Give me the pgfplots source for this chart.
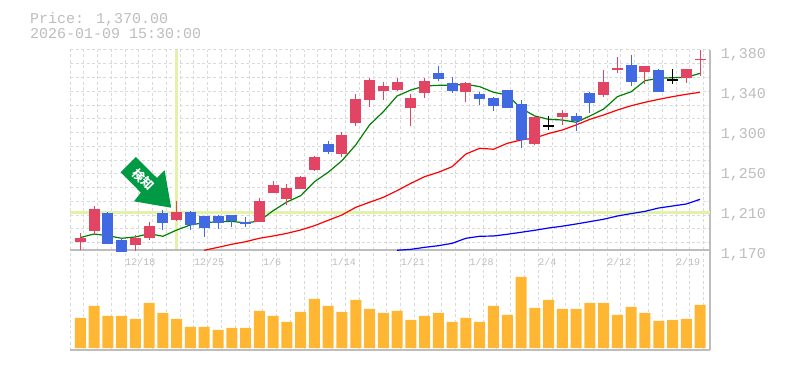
\documentclass[border=0pt]{standalone}
\usepackage{pgfplots}
\pgfplotsset{compat=1.18}
\usepackage{fontspec}
\setmainfont{Liberation Mono}
\newfontfamily\cjk{Noto Sans CJK JP}
\definecolor{tgray}{HTML}{BDBDBD}
\definecolor{gridc}{HTML}{DADADA}
\definecolor{hl}{HTML}{E2F2A8}
\definecolor{cred}{HTML}{E24464}
\definecolor{cblue}{HTML}{4169E1}
\definecolor{vol}{HTML}{FFB733}
\definecolor{arrowc}{HTML}{009944}
\pgfplotsset{
  common/.style={
    scale only axis, width=640pt, xmin=-0.747, xmax=45.72,
    axis x line=bottom, axis y line=right,
    axis line style={-, draw=tgray, line width=1.2pt},
    major tick length=0pt, minor tick length=0pt,
    xtick={-0.747,0.253,...,45.3},
    xmajorgrids, grid style={draw=gridc, line width=1pt, dash pattern=on 3pt off 2.5pt},
    unbounded coords=jump,
  },
  wick/.style={line width=1pt, forget plot},
  body/.style={line width=11pt, forget plot},
}
\begin{document}
\begin{tikzpicture}[x=1pt,y=1pt]
\path[use as bounding box] (0,0) rectangle (785,370);
\node[anchor=west,inner sep=0pt,text=tgray,font=\fontsize{15pt}{15pt}\selectfont] at (30,351) {Price: 1,370.00};
\node[anchor=west,inner sep=0pt,text=tgray,font=\fontsize{15pt}{15pt}\selectfont] at (30,336) {2026-01-09 15:30:00};
% volume panel
\begin{axis}[common, at={(70pt,20pt)}, anchor=south west, height=100pt,
  ymin=-2, ymax=98, ytick=\empty, xticklabels={}]
\addplot[ybar, bar width=11pt, bar shift=0pt, fill=vol, draw=none] coordinates {
(0,30)(1,42)(2,32)(3,32)(4,29)(5,45)(6,35)(7,29)(8,21)(9,21)(10,18)(11,20)
(12,20)(13,37)(14,32)(15,26)(16,36)(17,49)(18,42)(19,36)(20,48)(21,39)(22,35)(23,37)
(24,28)(25,32)(26,35)(27,26)(28,30)(29,26)(30,42)(31,33)(32,71)(33,40)(34,48)(35,39)
(36,39)(37,45)(38,45)(39,33)(40,41)(41,35)(42,27)(43,28)(44,29)(45,43)};
\end{axis}
% price panel
\begin{axis}[common, at={(70pt,120pt)}, anchor=south west, height=200pt,
  ymin=1170, ymax=1380, clip=false,
  ytick={1170,1212,1254,1296,1338,1380},
  yticklabels={{1,170},{1,210},{1,250},{1,300},{1,340},{1,380}},
  minor ytick={1380,1365.56,...,1170},
  yminorgrids, minor grid style={draw=gridc, line width=1pt, dash pattern=on 3pt off 2.5pt},
  yticklabel style={anchor=west, inner sep=0pt, xshift=10.7pt, yshift=-5pt, text=tgray, font=\fontsize{15pt}{15pt}\selectfont},
  xticklabels={,,,,12/18,,,,,12/25,,,,,1/6,,,,,1/14,,,,,1/21,,,,,1/28,,,,,2/4,,,,,2/12,,,,,2/19,},
  xticklabel style={anchor=north west, inner sep=0pt, yshift=-8.5pt, text=tgray, font=\fontsize{10pt}{10pt}\selectfont},
]
\addplot[hl, line width=3pt, forget plot] coordinates {(-0.747,1209.6)(45.72,1209.6)};
\addplot[hl, line width=3pt, forget plot] coordinates {(7,1380)(7,1171)};
% moving averages
\addplot[color={rgb,255:red,0;green,128;blue,0}, line width=1.2pt, forget plot] coordinates {
(0,1183.1)(1,1186.8)(2,1185)(3,1182.3)(4,1183.7)(5,1187.1)(6,1184.4)(7,1191)(8,1196.3)(9,1198.7)
(10,1199.7)(11,1200.1)(12,1198.4)(13,1200.5)(14,1211.3)(15,1220.4)(16,1227)(17,1241.7)(18,1251.6)(19,1263.8)
(20,1280.3)(21,1301.3)(22,1315.2)(23,1331.7)(24,1338)(25,1342.2)(26,1342.9)(27,1342.9)(28,1344)(29,1341.5)
(30,1335.6)(31,1332.8)(32,1318.8)(33,1310.7)(34,1307.2)(35,1306.5)(36,1304.1)(37,1310.7)(38,1318)(39,1331)
(40,1336.2)(41,1347.8)(42,1350.3)(43,1350.9)(44,1351.3)(45,1355.5)};
\addplot[color=red, line width=1.2pt, forget plot] coordinates {
(9,1169.7)(10,1172.8)(11,1176)(12,1178.7)(13,1182.3)(14,1184.7)(15,1187.5)(16,1191)(17,1195.5)(18,1201.2)(19,1206.8)
(20,1214.8)(21,1220.1)(22,1225.3)(23,1232.3)(24,1240)(25,1247)(26,1251.6)(27,1257.5)(28,1270.8)(29,1276.8)
(30,1275.8)(31,1282)(32,1285.5)(33,1287.6)(34,1292.3)(35,1296)(36,1301.3)(37,1307.2)(38,1311.8)(39,1317)
(40,1321.5)(41,1325.1)(42,1328.2)(43,1331)(44,1333.5)(45,1335.6)};
\addplot[color=blue, line width=1.2pt, forget plot] coordinates {
(23,1169.7)(24,1170.7)(25,1172.8)(26,1174.5)(27,1177)(28,1182.3)(29,1184.4)
(30,1184.7)(31,1186.5)(32,1188.6)(33,1190.7)(34,1193.1)(35,1195)(36,1197.3)(37,1199.8)(38,1202.3)(39,1205.7)
(40,1208.2)(41,1210.6)(42,1214.1)(43,1216.2)(44,1218.3)(45,1223.2)};
% wicks, red
\addplot[cred, wick] coordinates {
(0,1187.9)(0,1170)(0,nan)(1,1216.2)(1,1185.8)(1,nan)(4,1185.8)(4,1169)(4,nan)(5,1199.4)(5,1180.5)(5,nan)
(7,1221.5)(7,1200.5)(7,nan)(13,1224.6)(13,1199.4)(13,nan)(14,1242.5)(14,1229.9)(14,nan)(15,1239.3)(15,1217.3)(15,nan)
(16,1247.7)(16,1234.1)(16,nan)(17,1268.7)(17,1253)(17,nan)(19,1293.9)(19,1267.7)(19,nan)(20,1333.8)(20,1300.2)(20,nan)
(21,1350.6)(21,1320.2)(21,nan)(22,1346.4)(22,1327.5)(22,nan)(23,1350.6)(23,1337)(23,nan)(24,1333.8)(24,1300.2)(24,nan)
(25,1350.6)(25,1329.6)(25,nan)(28,1346.4)(28,1325.4)(28,nan)(33,1309.7)(33,1280.3)(33,nan)(35,1317)(35,1301.3)(35,nan)
(38,1359)(38,1330.7)(38,nan)(39,1372.7)(39,1355.9)(39,nan)(41,1363.2)(41,1344.3)(41,nan)(44,1360.1)(44,1345.4)(44,nan)
(45,1380)(45,1352.7)};
% bodies, red
\addplot[cred, body] coordinates {
(0,1182.6)(0,1178.4)(0,nan)(1,1213.1)(1,1189.9)(1,nan)(4,1182.6)(4,1175.3)(4,nan)(5,1195.2)(5,1182.6)(5,nan)
(7,1209.9)(7,1201.5)(7,nan)(13,1221.5)(13,1199.4)(13,nan)(14,1238.3)(14,1229.9)(14,nan)(15,1235.1)(15,1223.6)(15,nan)
(16,1246.7)(16,1234.1)(16,nan)(17,1267.7)(17,1254)(17,nan)(19,1290.8)(19,1270.8)(19,nan)(20,1328.6)(20,1303.4)(20,nan)
(21,1348.5)(21,1327.5)(21,nan)(22,1342.2)(22,1337)(22,nan)(23,1346.4)(23,1338)(23,nan)(24,1329.6)(24,1319.1)(24,nan)
(25,1347.5)(25,1334.9)(25,nan)(28,1345.4)(28,1335.9)(28,nan)(33,1309.7)(33,1281.3)(33,nan)(35,1313.9)(35,1309.7)(35,nan)
(38,1346.4)(38,1332.8)(38,nan)(39,1361.1)(39,1359)(39,nan)(41,1363.2)(41,1356.9)(41,nan)(44,1360.1)(44,1350.6)(44,nan)
(45,1371)(45,1369)};
% wicks, blue
\addplot[cblue, wick] coordinates {
(2,1209.9)(2,1176.3)(2,nan)(3,1182.6)(3,1167.9)(3,nan)(6,1212)(6,1191)(6,nan)(8,1211)(8,1191)(8,nan)
(9,1205.7)(9,1183.7)(9,nan)(10,1206.8)(10,1192.1)(10,nan)(11,1206.8)(11,1194.2)(11,nan)(12,1204.7)(12,1194.2)(12,nan)
(18,1284.5)(18,1270.8)(18,nan)(26,1363.2)(26,1347.5)(26,nan)(27,1351.7)(27,1334.9)(27,nan)(29,1335.9)(29,1322.3)(29,nan)
(30,1330.7)(30,1316)(30,nan)(31,1338)(31,1319.1)(31,nan)(32,1327.5)(32,1277.1)(32,nan)(36,1313.9)(36,1295)(36,nan)
(37,1335.9)(37,1313.9)(37,nan)(40,1374.8)(40,1342.2)(40,nan)(42,1360.1)(42,1335.9)};
% bodies, blue
\addplot[cblue, body] coordinates {
(2,1208.9)(2,1176.3)(2,nan)(3,1180.5)(3,1167.9)(3,nan)(6,1208.9)(6,1198.4)(6,nan)(8,1209.9)(8,1196.3)(8,nan)
(9,1205.7)(9,1193.1)(9,nan)(10,1205.7)(10,1198.4)(10,nan)(11,1206.8)(11,1200.1)(11,nan)(12,1199.4)(12,1197.3)(12,nan)
(18,1281.3)(18,1272.9)(18,nan)(26,1355.9)(26,1349.6)(26,nan)(27,1345.4)(27,1337)(27,nan)(29,1333.8)(29,1328.6)(29,nan)
(30,1329.6)(30,1321.2)(30,nan)(31,1338)(31,1319.1)(31,nan)(32,1323.3)(32,1285.5)(32,nan)(36,1310.7)(36,1305.5)(36,nan)
(37,1334.9)(37,1324.4)(37,nan)(40,1364.3)(40,1346.4)(40,nan)(42,1359)(42,1335.9)};
% dojis, black
\addplot[black, wick, line width=1.2pt] coordinates {(34,1310.7)(34,1296)(34,nan)(43,1360.1)(43,1344.3)};
\addplot[black, body] coordinates {(34,1301)(34,1299.2)(34,nan)(43,1349.4)(43,1347.6)};
% arrow
\addplot[fill=arrowc, draw=none, forget plot] coordinates {
(4.04,1267.65)(2.93,1251.6)(4.40,1230.2)(3.90,1221.1)(6.60,1214.4)(6.12,1253.7)(5.57,1245.6)} --cycle;
\node[rotate=-45, text=white, inner sep=0pt, font=\cjk\bfseries\fontsize{12pt}{12pt}\selectfont] at (axis cs:4.57,1244.2) {検知};
\end{axis}
\end{tikzpicture}
\end{document}
